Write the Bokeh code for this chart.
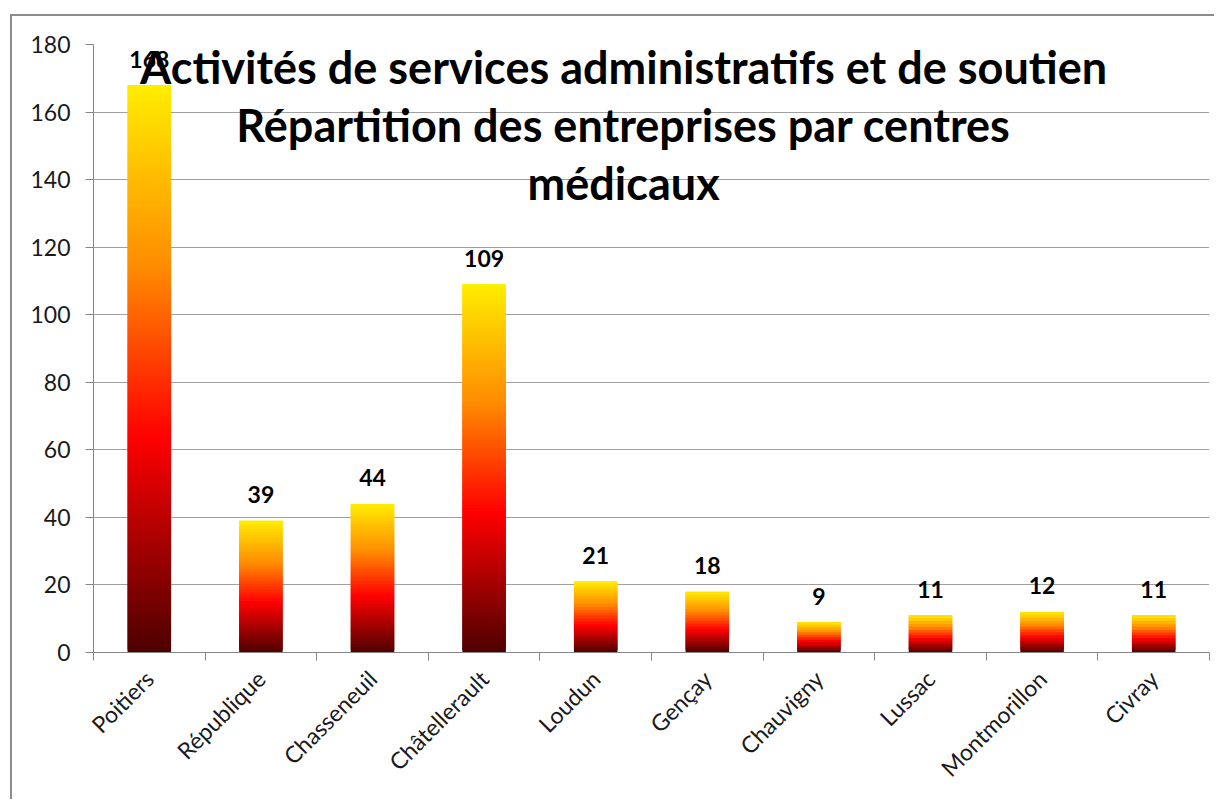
from bokeh.plotting import figure
from bokeh.models import Range1d, FixedTicker, Label
from bokeh.core.properties import value
from bokeh.embed import file_html
from bokeh.resources import INLINE

categories = ["Poitiers", "République", "Chasseneuil", "Châtellerault", "Loudun",
              "Gençay", "Chauvigny", "Lussac", "Montmorillon", "Civray"]
counts = [168, 39, 44, 109, 21, 18, 9, 11, 12, 11]
y_ticks = [0, 20, 40, 60, 80, 100, 120, 140, 160, 180]
title_lines = ["Activités de services administratifs et de soutien",
               "Répartition des entreprises par centres",
               "médicaux"]

W, H = 1204, 785
n = len(categories)
p = figure(width=W, height=H, output_backend="svg", toolbar_location=None,
           x_range=Range1d(0, n), y_range=Range1d(0, 180),
           min_border_left=81, min_border_right=7, min_border_top=28, min_border_bottom=149)
p.background_fill_color = "white"
p.border_fill_color = "white"
p.outline_line_color = None
p.styles = {"margin-left": "10px", "margin-top": "14px",
            "border-left": "2px solid #8c8c8c", "border-top": "2px solid #8c8c8c"}

# gradient bars built from stacked slices of each value
stops = [(0.0, (77, 0, 0)), (0.38, (255, 0, 0)), (0.68, (255, 140, 0)), (1.0, (255, 237, 0))]

def grad(f):
    for (a, ca), (b, cb) in zip(stops[:-1], stops[1:]):
        if a <= f <= b:
            t = (f - a) / (b - a)
            c = [round(ca[j] + (cb[j] - ca[j]) * t) for j in range(3)]
            return "#%02x%02x%02x" % tuple(c)
    return "#%02x%02x%02x" % stops[-1][1]

half = 0.195
L, R, B, T, C = [], [], [], [], []
for i, v in enumerate(counts):
    cx = i + 0.5
    N = max(12, int(v * 1.2))
    for k in range(N):
        L.append(cx - half)
        R.append(cx + half)
        B.append(v * k / N)
        T.append(min(v, v * (k + 2) / N))
        C.append(grad((k + 0.5) / N))
p.quad(left=L, right=R, bottom=B, top=T, fill_color=C, line_color=None)

centers = [i + 0.5 for i in range(n)]
p.text(x=centers, y=counts, text=[str(v) for v in counts], text_align="center",
       text_baseline="middle", y_offset=-26, text_font=value("Lato"),
       text_font_style="bold", text_font_size="23px", text_color="black")

# axes
p.xaxis.ticker = FixedTicker(ticks=centers, minor_ticks=list(range(n + 1)))
p.xaxis.major_label_overrides = {c: name for c, name in zip(centers, categories)}
p.xaxis.major_tick_line_color = None
p.xaxis.minor_tick_in = 0
p.xaxis.minor_tick_out = 8
p.xaxis.minor_tick_line_color = "#868686"
p.xaxis.axis_line_color = "#868686"
p.xaxis.major_label_orientation = 0.785398
p.xaxis.major_label_standoff = 14
p.xaxis.major_label_text_font = "Lato"
p.xaxis.major_label_text_font_size = "23px"
p.xaxis.major_label_text_color = "#1a1a1a"

p.yaxis.ticker = FixedTicker(ticks=y_ticks)
p.yaxis.major_tick_in = 0
p.yaxis.major_tick_out = 8
p.yaxis.major_tick_line_color = "#868686"
p.yaxis.minor_tick_line_color = None
p.yaxis.axis_line_color = "#868686"
p.yaxis.major_label_standoff = 15
p.yaxis.major_label_text_font = "Lato"
p.yaxis.major_label_text_font_size = "23px"
p.yaxis.major_label_text_color = "#1a1a1a"

p.xgrid.grid_line_color = None
p.ygrid.grid_line_color = "#a0a0a0"
p.ygrid.grid_line_width = 1

# title lines
for txt, yy in zip(title_lines, [173.3, 156.1, 139.0]):
    p.add_layout(Label(x=4.75, y=yy, text=txt, text_align="center", text_baseline="alphabetic",
                       text_font="Lato", text_font_style="bold", text_font_size="45px",
                       text_color="black"))

open("out.html", "w").write(file_html(p, INLINE))
